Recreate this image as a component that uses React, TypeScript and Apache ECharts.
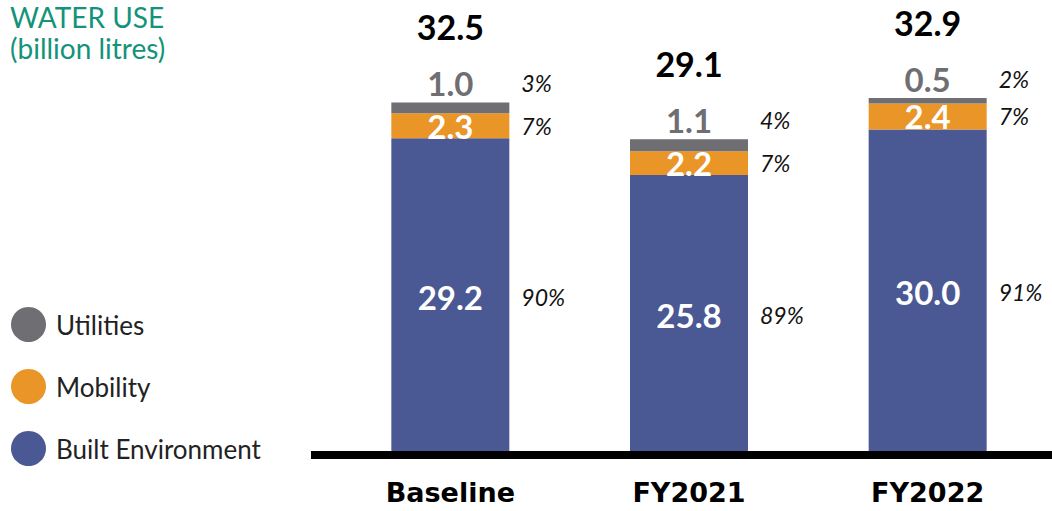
import React, { useEffect, useRef } from "react";
import * as echarts from "echarts";

const categories = ["Baseline", "FY2021", "FY2022"];
const builtEnv = [29.2, 25.8, 30.0];
const mobility = [2.3, 2.2, 2.4];
const utilities = [1.0, 1.1, 0.5];
const totals = [32.5, 29.1, 32.9];
const pctBuilt = [90, 89, 91];
const pctMobility = [7, 7, 7];
const pctUtilities = [3, 4, 2];
const titleLines = ["WATER USE", "(billion litres)"];

const BLUE = "#4a5894";
const ORANGE = "#e99527";
const GRAY = "#6e6e73";
const TEAL = "#13937a";
const NUM_FONT = "Lato, 'Open Sans', sans-serif";

export default function App() {
  const ref = useRef<HTMLDivElement>(null);
  useEffect(() => {
    if (!ref.current) return;
    const chart = echarts.init(ref.current, null, { renderer: "svg" });
    const barW = 118;
    const pctStyle = {
      fontFamily: NUM_FONT,
      fontStyle: "italic",
      fontSize: 23,
      lineHeight: 24,
      color: "#111",
      padding: [0, 0, 0, 12],
    };
    const valueStyle = (color: string) => ({
      fontFamily: NUM_FONT,
      fontWeight: "bold",
      fontSize: 33,
      lineHeight: 26,
      color,
      width: barW,
      align: "center",
    });
    const insideLabel = (pcts: number[]) => ({
      show: true,
      position: "insideLeft",
      distance: 0,
      formatter: (p: any) => `{v|${p.value.toFixed(1)}}{p|${pcts[p.dataIndex]}%}`,
      rich: { v: valueStyle("#fff"), p: pctStyle },
    });
    const titleStyle = {
      fontFamily: NUM_FONT,
      fontWeight: "normal",
      fontSize: 28,
      lineHeight: 28,
      color: TEAL,
    };
    chart.setOption({
      animation: false,
      title: titleLines.map((t, i) => ({
        text: t,
        left: 10,
        top: 3 + i * 31,
        padding: 0,
        textStyle: titleStyle,
      })),
      legend: {
        orient: "vertical",
        left: 6,
        top: 302,
        icon: "circle",
        itemWidth: 35,
        itemHeight: 35,
        itemGap: 27,
        data: ["Utilities", "Mobility", "Built Environment"],
        textStyle: {
          fontFamily: NUM_FONT,
          fontSize: 26,
          color: "#222",
          padding: [0, 0, 0, 5],
        },
      },
      grid: { left: 331, right: 5, top: 21, bottom: 56 },
      xAxis: {
        type: "category",
        data: categories,
        axisLine: { show: false },
        axisTick: { show: false },
        axisLabel: {
          margin: 22,
          fontFamily: "'DejaVu Sans', sans-serif",
          fontWeight: "bold",
          fontSize: 27,
          lineHeight: 30,
          color: "#000",
        },
      },
      yAxis: {
        type: "value",
        min: 0,
        max: 40,
        show: false,
        splitLine: { show: false },
      },
      series: [
        {
          name: "Built Environment",
          type: "bar",
          stack: "t",
          barWidth: barW,
          barGap: "-100%",
          itemStyle: { color: BLUE },
          data: builtEnv,
          label: insideLabel(pctBuilt),
        },
        {
          name: "Mobility",
          type: "bar",
          stack: "t",
          barWidth: barW,
          itemStyle: { color: ORANGE },
          data: mobility,
          label: insideLabel(pctMobility),
        },
        {
          name: "Utilities",
          type: "bar",
          stack: "t",
          barWidth: barW,
          itemStyle: { color: GRAY },
          data: utilities,
          label: {
            show: true,
            position: [0, -19],
            align: "left",
            verticalAlign: "middle",
            formatter: (p: any) =>
              `{v|${p.value.toFixed(1)}}{p|${pctUtilities[p.dataIndex]}%}`,
            rich: { v: valueStyle(GRAY), p: pctStyle },
          },
        },
        {
          name: "Total",
          type: "bar",
          barWidth: barW,
          barGap: "-100%",
          silent: true,
          z: 0,
          itemStyle: { color: "rgba(0,0,0,0)" },
          data: totals,
          label: {
            show: true,
            position: "top",
            distance: 61,
            formatter: (p: any) => p.value.toFixed(1),
            fontFamily: NUM_FONT,
            fontWeight: "bold",
            fontSize: 34,
            lineHeight: 30,
            color: "#000",
          },
        },
      ],
      graphic: [
        {
          type: "line",
          shape: { x1: 311, y1: 455, x2: 1052, y2: 455 },
          style: { stroke: "#000", lineWidth: 8 },
          z: 100,
        },
      ],
    });
    return () => chart.dispose();
  }, []);
  return (
    <div
      ref={ref}
      style={{ position: "fixed", left: 0, top: 0, width: 1052, height: 511, background: "#fff" }}
    />
  );
}
